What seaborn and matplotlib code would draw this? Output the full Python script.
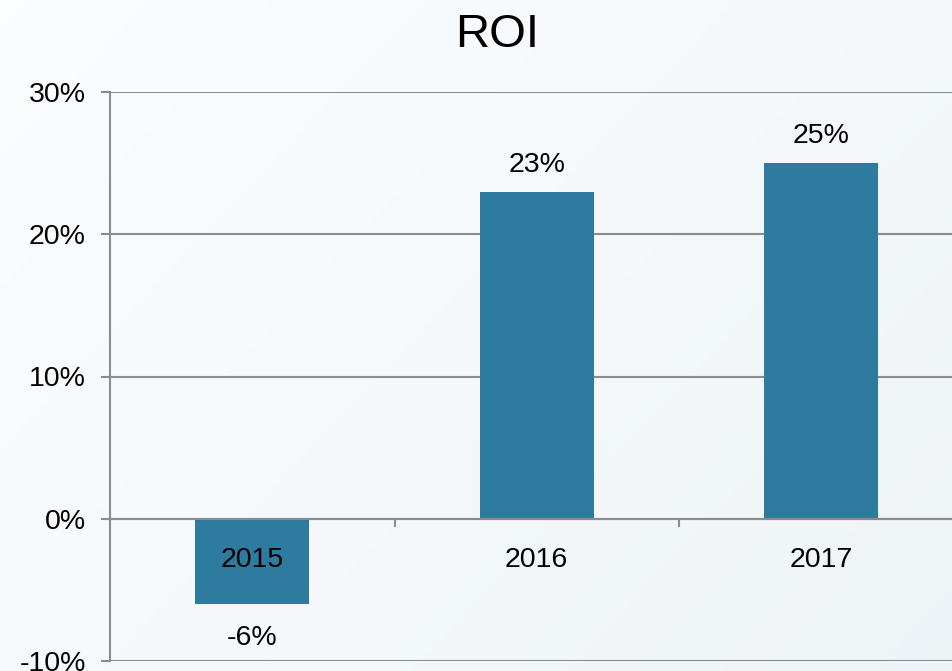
import numpy as np
import pandas as pd
import matplotlib
matplotlib.use('Agg')
import matplotlib.pyplot as plt
import seaborn as sns
from matplotlib.ticker import FuncFormatter, FixedLocator

# Datos
anios = ["2015", "2016", "2017"]
roi = [-6, 23, 25]
y_ticks = [-10, 0, 10, 20, 30]

df = pd.DataFrame({"anio": anios, "roi": roi})

sns.set_style("white")
plt.rcParams['font.family'] = ['Liberation Sans', 'DejaVu Sans']
plt.rcParams['text.color'] = 'black'

fig = plt.figure(figsize=(9.52, 6.71), dpi=100)

# fondo degradado claro
bg = fig.add_axes([0, 0, 1, 1], zorder=-10)
gx, gy = np.meshgrid(np.linspace(0, 1, 200), np.linspace(0, 1, 200))
grad = 0.6 * gx + 0.4 * gy
c0 = np.array([0.985, 0.995, 1.0])
c1 = np.array([0.935, 0.955, 0.968])
img = c0[None, None, :] * (1 - grad[..., None]) + c1[None, None, :] * grad[..., None]
bg.imshow(img, aspect='auto', extent=[0, 1, 0, 1], origin='upper')
bg.axis('off')

ax = fig.add_axes([110 / 952, 10 / 671, 853.5 / 952, 569 / 671])
ax.patch.set_alpha(0)

sns.barplot(data=df, x="anio", y="roi", order=anios, color="#2E7BA0",
            width=0.4, saturation=1, linewidth=0, ax=ax, zorder=3)

ax.set_xlim(-0.5, 2.5)
ax.set_ylim(-10, 30)
ax.set_yticks(y_ticks)
ax.yaxis.set_major_formatter(FuncFormatter(lambda v, p: f"{v:.0f}%"))
ax.grid(axis='y', color='#8c8c8c', linewidth=1.5, zorder=0)
ax.set_axisbelow(True)
# etiquetas de categoria por encima de las barras
ax.xaxis.set_zorder(5)

for s in ['top', 'right']:
    ax.spines[s].set_visible(False)
ax.spines['left'].set_color('#8c8c8c')
ax.spines['left'].set_linewidth(1.5)
ax.spines['bottom'].set_position(('data', 0))
ax.spines['bottom'].set_color('#8c8c8c')
ax.spines['bottom'].set_linewidth(1.5)
ax.spines['bottom'].set_zorder(4)

ax.tick_params(axis='y', length=6.5, width=1.5, color='#8c8c8c', pad=11,
               labelsize=20.5, labelcolor='black', left=True)
ax.tick_params(axis='x', which='major', length=0, pad=20, labelsize=20.5,
               labelcolor='black', bottom=True)
ax.xaxis.set_minor_locator(FixedLocator([0.5, 1.5]))
ax.tick_params(axis='x', which='minor', length=6, width=1.5, color='#8c8c8c',
               direction='out', bottom=True)
ax.set_xlabel("")
ax.set_ylabel("")

cont = ax.containers[0]
ax.bar_label(cont, labels=[f"{v}%" if v >= 0 else "" for v in roi], padding=10,
             fontsize=20.5, color='black')
ax.bar_label(cont, labels=[f"{v}%" if v < 0 else "" for v in roi], padding=15,
             fontsize=20.5, color='black')

fig.text(497 / 952, 1 - 35 / 671, "ROI", ha='center', va='center', fontsize=34,
         color='black')

plt.savefig("out.png", dpi=100)
plt.close()
